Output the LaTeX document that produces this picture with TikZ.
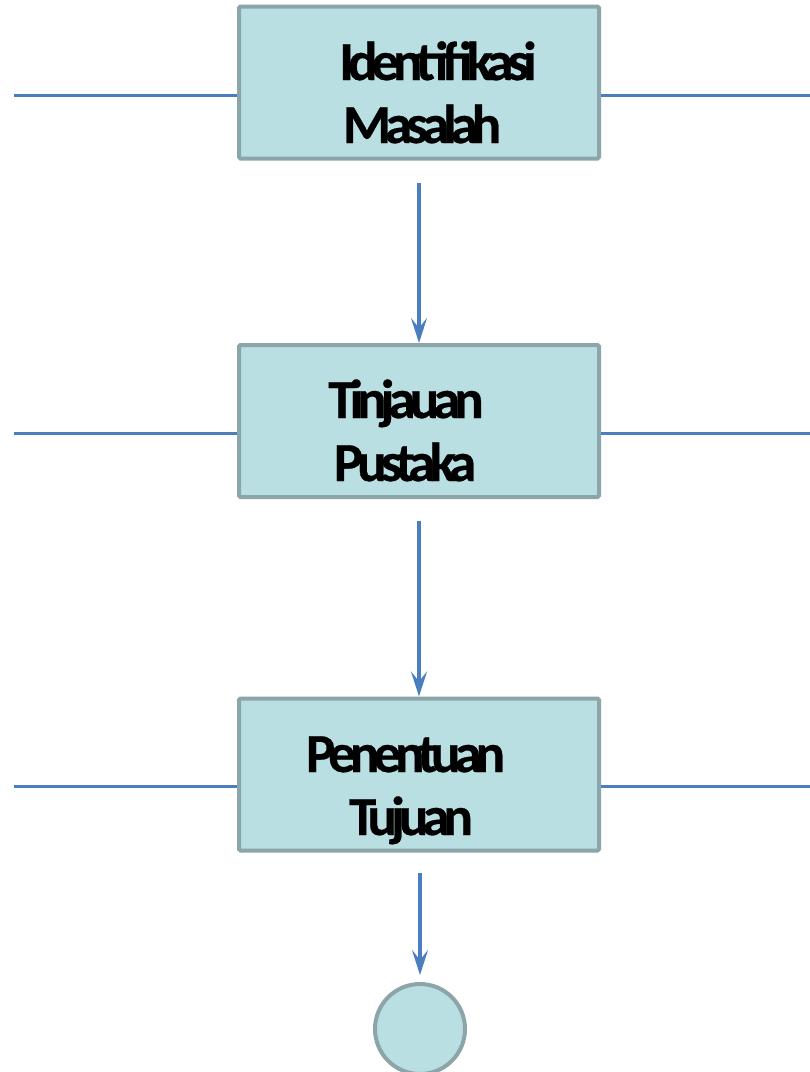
\documentclass[tikz,border=0pt]{standalone}
\usepackage{fontspec}
\setmainfont{Carlito}[BoldFeatures={FakeBold=0.5}]
\usetikzlibrary{arrows.meta}
\definecolor{boxfill}{RGB}{186,223,227}
\definecolor{boxedge}{RGB}{140,165,168}
\definecolor{flow}{RGB}{74,126,191}
\tikzset{
  stepbox/.style={draw=boxedge, fill=boxfill, line width=4pt, rounded corners=1.5pt,
    minimum width=360pt, minimum height=152pt, inner sep=0pt},
  endcircle/.style={circle, draw=boxedge, fill=boxfill, line width=4pt,
    minimum size=90pt, inner sep=0pt},
  lbl/.style={anchor=base, inner sep=0pt,
    font=\fontsize{55pt}{63pt}\selectfont\bfseries\addfontfeatures{LetterSpace=-11}},
  link/.style={draw=flow, line width=3pt},
  arr/.style={draw=flow, line width=3.5pt, -{Stealth[length=25pt, width=16pt, inset=10pt]}},
}
\begin{document}
\begin{tikzpicture}[x=1pt, y=-1pt]
  \useasboundingbox (0,0) rectangle (810,1072);

  % process steps
  \node[stepbox] (b1) at (419,82.5) {};
  \node[stepbox] (b2) at (419,421) {};
  \node[stepbox] (b3) at (419,774.5) {};
  \node[endcircle] (end) at (420,1029) {};

  % step labels
  \node[lbl] (t1a) at (438,80)  {Identifikasi};
  \node[lbl] (t1b) at (422,143) {Masalah};
  \node[lbl] (t2a) at (406,418) {Tinjauan};
  \node[lbl] (t2b) at (405,481) {Pustaka};
  \node[lbl] (t3a) at (405.5,772) {Penentuan};
  \node[lbl] (t3b) at (411,835) {Tujuan};

  % side links
  \coordinate (l1) at (14,95);   \coordinate (r1) at (810,95);
  \coordinate (l2) at (14,433);  \coordinate (r2) at (810,433);
  \coordinate (l3) at (14,786);  \coordinate (r3) at (810,786);
  \draw[link] (l1) -- (l1 -| b1.west);
  \draw[link] (r1) -- (r1 -| b1.east);
  \draw[link] (l2) -- (l2 -| b2.west);
  \draw[link] (r2) -- (r2 -| b2.east);
  \draw[link] (l3) -- (l3 -| b3.west);
  \draw[link] (r3) -- (r3 -| b3.east);

  % flow arrows
  \coordinate (s1) at (419,183);
  \coordinate (s2) at (419,521);
  \coordinate (s3) at (420,873);
  \draw[arr] (s1) -- (s1 |- b2.north);
  \draw[arr] (s2) -- (s2 |- b3.north);
  \draw[arr, shorten >=7pt] (s3) -- (end.north);
\end{tikzpicture}
\end{document}
